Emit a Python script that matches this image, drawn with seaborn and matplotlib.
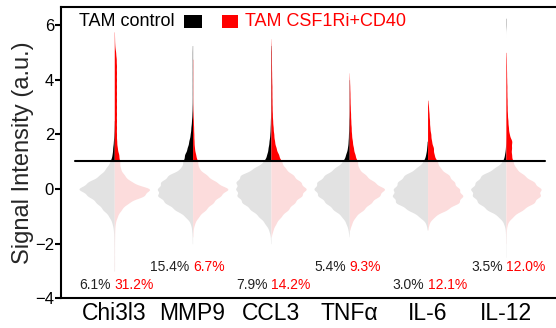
import numpy as np
import pandas as pd
import seaborn as sns
import matplotlib
matplotlib.use("Agg")
import matplotlib.pyplot as plt
from matplotlib.patches import Rectangle

# ---------------- data ----------------
markers = ["Chi3l3", "MMP9", "CCL3", "TNFα", "IL-6", "IL-12"]
groups = ["TAM control", "TAM CSF1Ri+CD40"]
pct_ctrl = ["6.1%", "15.4%", "7.9%", "5.4%", "3.0%", "3.5%"]
pct_treat = ["31.2%", "6.7%", "14.2%", "9.3%", "12.1%", "12.0%"]
threshold = 1.04

# histogram grid: 39 bins of width 0.25 starting at -3.0 (cell counts per bin)
bin_start = -3.0
bin_width = 0.25

chi3l3_ctrl = [3, 3, 3, 3, 4, 5, 8,
               20, 50, 110, 170, 250, 350, 250, 140, 80,
               40, 20, 15, 8, 4, 2, 1,
               0, 0, 0, 0, 0, 0, 0, 0, 0, 0, 0, 0, 0, 0, 0, 0]
chi3l3_treat = [3, 3, 3, 3, 3, 4, 5,
                10, 30, 70, 140, 300, 370, 170, 100, 60,
                55, 45, 30, 24,
                22, 22, 22, 22, 22, 22, 22, 22, 22, 22, 22,
                20, 14, 5, 3, 2,
                0, 0, 0]
mmp9_ctrl = [0, 0, 0, 0,
             3, 4, 8, 20,
             70, 170, 260, 330, 330, 300, 230, 110,
             90, 75, 50, 35, 22, 16, 10, 6, 4,
             3, 3, 3, 3, 3, 3, 3, 3,
             2,
             0, 0, 0, 0, 0]
mmp9_treat = [0, 0, 0, 0, 0,
              3, 5, 20,
              60, 130, 200, 270, 360, 230, 140, 60,
              50, 30, 18, 14, 12, 10, 8, 5, 3,
              2, 2, 2, 2, 2, 2, 2,
              0, 0, 0, 0, 0, 0, 0]
ccl3_ctrl = [0, 0, 0, 0,
             3, 5, 20, 60,
             120, 200, 280, 330, 340, 340, 300, 170,
             70, 40, 27, 18, 10, 7, 5,
             3, 3, 3, 3, 3, 3, 3, 3, 3, 3,
             2,
             0, 0, 0, 0, 0]
ccl3_treat = [0, 0, 0, 0, 0,
              3, 20, 50,
              100, 170, 230, 300, 350, 290, 220, 140,
              105, 75, 50, 35, 28, 22, 17, 14, 12, 11, 10, 10, 8, 7, 6, 5, 5, 3, 1,
              0, 0, 0, 0]
tnf_ctrl = [0, 0, 0, 0, 0,
            2, 10, 30,
            70, 150, 220, 290, 330, 300, 230, 140,
            60, 33, 16, 10, 7, 5, 4,
            2, 2, 2, 2, 2, 2,
            0, 0, 0, 0, 0, 0, 0, 0, 0, 0]
tnf_treat = [0, 0, 0, 0, 0, 0,
             5, 25,
             60, 140, 210, 290, 350, 240, 160, 90,
             80, 55, 40, 30, 22, 19, 15, 13, 10, 8, 7, 5, 3, 1,
             0, 0, 0, 0, 0, 0, 0, 0, 0]
il6_ctrl = [0, 0, 0, 0, 0, 0,
            3, 15,
            80, 190, 300, 330, 320, 280, 220, 110,
            40, 17, 8, 3,
            0, 0, 0, 0, 0, 0, 0, 0, 0, 0, 0, 0, 0, 0, 0, 0, 0, 0, 0]
il6_treat = [0, 0, 0, 0, 0, 0,
             3, 15,
             70, 200, 320, 360, 320, 270, 220, 130,
             100, 65, 60, 40, 33, 23, 20, 15, 10, 3,
             0, 0, 0, 0, 0, 0, 0, 0, 0, 0, 0, 0, 0]
il12_ctrl = [0, 0,
             2, 2, 2, 3, 5, 20,
             70, 180, 260, 310, 330, 280, 230, 110,
             30, 12, 4, 1,
             0, 0, 0, 0, 0, 0, 0, 0, 0, 0, 0, 0, 0, 0, 0, 0,
             2, 2,
             0]
il12_treat = [0, 0, 0, 0,
              2, 2, 5, 15,
              70, 170, 280, 340, 350, 280, 180, 100,
              70, 55, 55, 60, 33, 25, 20, 15, 13, 12, 10, 10, 8, 7, 6, 5, 3,
              0, 0, 0, 0, 0, 0]

counts_ctrl = [chi3l3_ctrl, mmp9_ctrl, ccl3_ctrl, tnf_ctrl, il6_ctrl, il12_ctrl]
counts_treat = [chi3l3_treat, mmp9_treat, ccl3_treat, tnf_treat, il6_treat, il12_treat]

# ---------------- build observations ----------------
rows = []
for m, cc, ct in zip(markers, counts_ctrl, counts_treat):
    for g, cnt in ((groups[0], cc), (groups[1], ct)):
        centers = bin_start + bin_width * np.arange(len(cnt))
        vals = np.repeat(centers, cnt)
        rows.append(pd.DataFrame({"marker": m, "group": g, "value": vals}))
df = pd.concat(rows, ignore_index=True)

# ---------------- plot ----------------
sns.set_theme(style="white")
plt.rcParams["font.family"] = ["Liberation Sans", "DejaVu Sans"]

W, H = 556, 328
fig = plt.figure(figsize=(W / 100, H / 100), dpi=100)
ax = fig.add_axes([61 / W, (H - 298.3) / H, 495 / W, 291.3 / H])

dark = {groups[0]: "#000000", groups[1]: "#ff0000"}
light = {groups[0]: "#e2e2e2", groups[1]: "#fcdcdc"}
target_bw = 0.12

upper, lower = [], []
for i, m in enumerate(markers):
    sub = df[df["marker"] == m]
    for gi, g in enumerate(groups):
        ser = sub.loc[sub["group"] == g, "value"]
        scott = ser.std() * len(ser) ** (-0.2)
        adj = target_bw / scott
        common = dict(data=sub, x="marker", y="value", hue="group", order=markers,
                      hue_order=groups, split=True, inner=None,
                      density_norm="width", common_norm=False, cut=0,
                      bw_adjust=adj, gridsize=500, width=0.9, linewidth=0,
                      saturation=1, legend=False, ax=ax)
        for pal, store in ((dark, upper), (light, lower)):
            n0 = len(ax.collections)
            sns.violinplot(palette=pal, **common)
            for c in list(ax.collections[n0:]):
                xs = np.concatenate([p.vertices[:, 0] for p in c.get_paths()])
                is_left = xs.mean() < i
                if is_left == (gi == 0):
                    store.append(c)
                else:
                    c.remove()

clip_up = Rectangle((-2, threshold), 20, 20, transform=ax.transData)
clip_dn = Rectangle((-2, -20), 20, 20 + threshold, transform=ax.transData)
for c in upper:
    c.set_clip_path(clip_up)
for c in lower:
    c.set_clip_path(clip_dn)

ax.plot([-0.5, 5.5], [threshold, threshold], color="black", lw=1.5, zorder=5)

# percentages
for i, (pc, pt) in enumerate(zip(pct_ctrl, pct_treat)):
    yv = -3.53 if i % 2 == 0 else -2.86
    ax.text(i - 0.04, yv, pc, color="#222222", fontsize=10, ha="right", va="center")
    ax.text(i + 0.005, yv, pt, color="#ff0000", fontsize=10, ha="left", va="center")

# legend (custom layout)
ax.text(0.0364, 0.950, groups[0], transform=ax.transAxes, fontsize=13,
        color="black", ha="left", va="center")
ax.add_patch(Rectangle((0.2485, 0.928), 0.0364, 0.0446, transform=ax.transAxes,
                       facecolor="black", edgecolor="none"))
ax.add_patch(Rectangle((0.3253, 0.928), 0.0323, 0.0446, transform=ax.transAxes,
                       facecolor="#ff0000", edgecolor="none"))
ax.text(0.3717, 0.950, groups[1], transform=ax.transAxes, fontsize=13,
        color="#ff0000", ha="left", va="center")

ax.set_xlim(-0.68, 5.64)
ax.set_ylim(-4, 6.66)
ax.set_yticks([-4, -2, 0, 2, 4, 6])
ax.set_xticks(range(len(markers)))
ax.set_xticklabels(markers)
ax.set_xlabel("")
ax.set_ylabel("Signal Intensity (a.u.)", fontsize=17, labelpad=1)

for s in ["left", "bottom", "top"]:
    ax.spines[s].set_visible(True)
    ax.spines[s].set_color("black")
    ax.spines[s].set_linewidth(1.5)
ax.spines["right"].set_visible(False)

ax.tick_params(axis="y", which="both", left=True, length=4, width=1.5,
               direction="out", pad=1, labelsize=12, colors="black")
ax.tick_params(axis="x", length=0, pad=3, labelsize=16.5, colors="black")

fig.savefig("out.png", dpi=100)
